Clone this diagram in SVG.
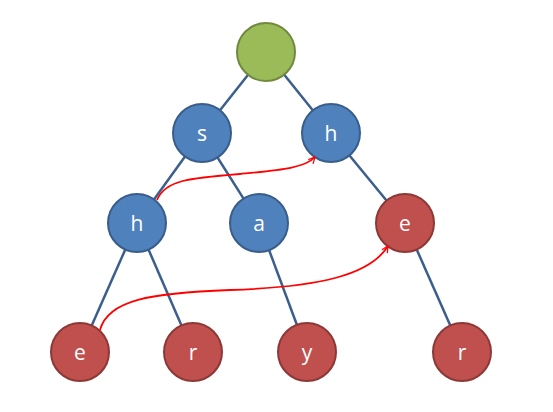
<svg xmlns="http://www.w3.org/2000/svg" width="553" height="412" viewBox="0 0 553 412">
<style>
.edge{stroke:#3B5E8C;stroke-width:2.5;fill:none}
.link{stroke:#FF0000;stroke-width:1.8;fill:none;marker-end:url(#arr)}
.blue{fill:#4F81BD;stroke:#385D8A;stroke-width:2}
.red{fill:#C0504D;stroke:#8C3836;stroke-width:2}
.green{fill:#9BBB59;stroke:#71893F;stroke-width:2}
text{font-family:"Open Sans","Liberation Sans",sans-serif;font-size:21px;fill:#FFFFFF;text-anchor:middle;dominant-baseline:central}
</style>
<defs>
<marker id="arr" viewBox="0 0 10 10" refX="9" refY="5" markerWidth="8" markerHeight="8" markerUnits="userSpaceOnUse" orient="auto">
<path d="M1,1 L9,5 L1,9" fill="none" stroke="#FF0000" stroke-width="1.6"/>
</marker>
</defs>
<rect width="553" height="412" fill="#FFFFFF"/>
<g id="connectors">
<line class="edge" x1="266" y1="52" x2="202" y2="133"/>
<line class="edge" x1="266" y1="52" x2="331" y2="133"/>
<line class="edge" x1="202" y1="133" x2="137" y2="223"/>
<line class="edge" x1="202" y1="133" x2="259" y2="223"/>
<line class="edge" x1="331" y1="133" x2="405" y2="223"/>
<line class="edge" x1="137" y1="223" x2="80" y2="352"/>
<line class="edge" x1="137" y1="223" x2="193" y2="352"/>
<line class="edge" x1="259" y1="223" x2="307" y2="352"/>
<line class="edge" x1="405" y1="223" x2="462" y2="352"/>
</g>
<g id="root"><circle class="green" cx="266" cy="52" r="29"/></g>
<g id="n-s"><circle class="blue" cx="202" cy="133" r="29"/><text x="202" y="133">s</text></g>
<g id="n-h1"><circle class="blue" cx="331" cy="133" r="29"/><text x="331" y="133">h</text></g>
<g id="n-h2"><circle class="blue" cx="137" cy="223" r="29"/><text x="137" y="223">h</text></g>
<g id="n-a"><circle class="blue" cx="259" cy="223" r="29"/><text x="259" y="223">a</text></g>
<g id="n-e1"><circle class="red" cx="405" cy="223" r="29"/><text x="405" y="223">e</text></g>
<g id="n-e2"><circle class="red" cx="80" cy="352" r="29"/><text x="80" y="352">e</text></g>
<g id="n-r1"><circle class="red" cx="193" cy="352" r="29"/><text x="193" y="352">r</text></g>
<g id="n-y"><circle class="red" cx="307" cy="352" r="29"/><text x="307" y="352">y</text></g>
<g id="n-r2"><circle class="red" cx="462" cy="352" r="29"/><text x="462" y="352">r</text></g>
<g id="links">
<path class="link" d="M157,200 C165,180 190,178 240,174 C280,170 305,168 315,157"/>
<path class="link" d="M100,330 C108,300 150,293 230,290 C320,287 370,275 388,246"/>
</g>
</svg>
